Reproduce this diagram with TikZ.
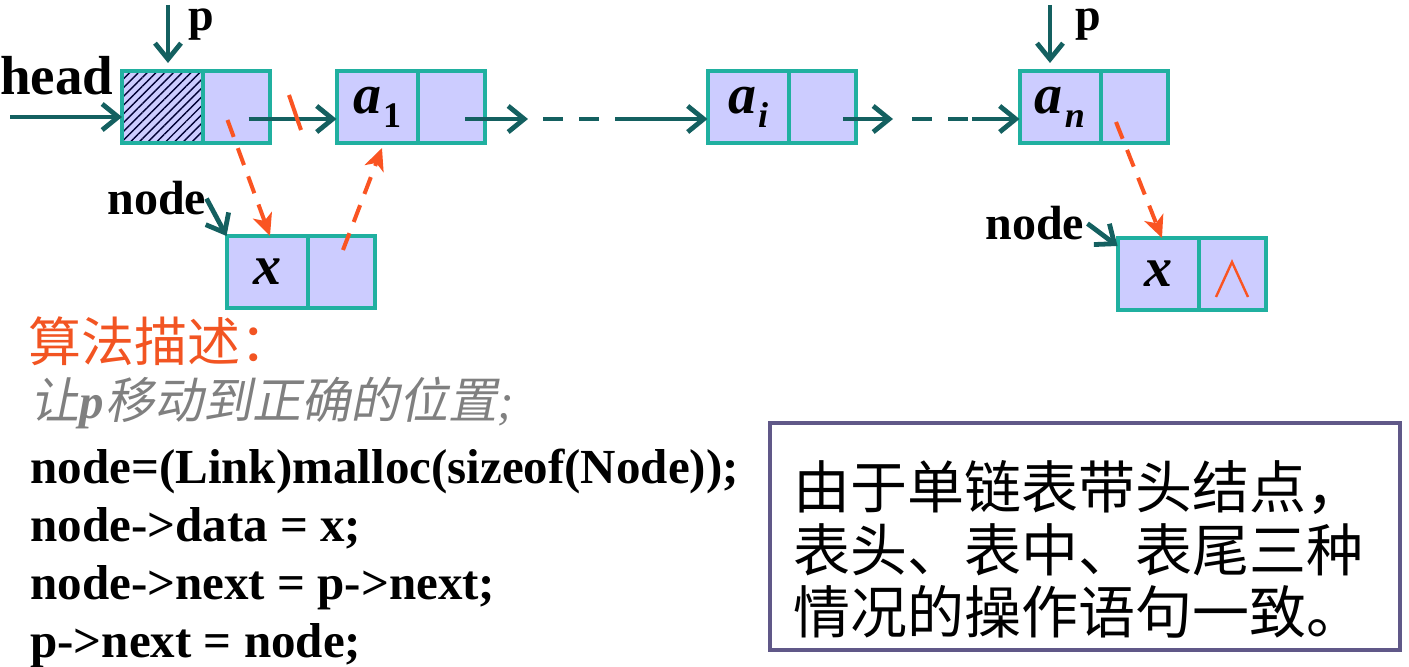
\documentclass[tikz,border=0pt]{standalone}
\usepackage{fontspec}
\setmainfont{Liberation Serif}
\newfontfamily\cjk{Noto Sans CJK SC}
\newfontfamily\cjkit{Noto Sans CJK SC}[FakeSlant=0.2]
\usetikzlibrary{positioning,calc,arrows.meta,patterns.meta}

\definecolor{cellfill}{RGB}{204,204,255}
\definecolor{cellline}{RGB}{32,176,160}
\definecolor{ptrcol}{RGB}{20,96,96}
\definecolor{newred}{RGB}{250,84,34}
\definecolor{titlered}{RGB}{242,84,34}
\definecolor{boxline}{RGB}{96,88,136}

\tikzset{
    datacell/.style={draw=cellline, fill=cellfill, line width=2pt, minimum width=40.5pt, minimum height=36pt, inner sep=0pt, outer sep=0pt},
    nextcell/.style={datacell, minimum width=33.5pt},
    ptr/.style={draw=ptrcol, line width=2.4pt, -{Straight Barb[length=8pt,width=13pt]}},
    gap/.style={draw=ptrcol, line width=2.4pt, dash pattern=on 10pt off 8pt},
    newptr/.style={draw=newred, line width=2pt, dash pattern=on 9pt off 6pt, -{Stealth[length=11pt,width=10pt,inset=3pt]}},
    lbl/.style={font=\bfseries\fontsize{24}{24}\selectfont, inner sep=0pt},
    code/.style={anchor=base west, inner sep=0pt, font=\bfseries\fontsize{24.5}{25}\selectfont},
    notebox/.style={draw=boxline, line width=2pt, minimum width=315pt, minimum height=113.5pt, inner sep=0pt},
    noteline/.style={anchor=base west, inner sep=0pt, font=\cjk\fontsize{28.5}{31}\selectfont}
}

\newcommand{\elem}[2]{{\bfseries\itshape\fontsize{28}{28}\selectfont #1}\kern1pt\raisebox{-7pt}{\bfseries\fontsize{18}{18}\selectfont #2}}
\newcommand{\xval}{{\bfseries\itshape\fontsize{28}{28}\selectfont x}\hspace{12pt}}

\begin{document}
\begin{tikzpicture}[x=0.5pt, y=-0.5pt]
        \useasboundingbox (0,0) rectangle (1409,667);

        % head node
        \node[datacell, preaction={fill=cellfill}, pattern={Lines[angle=45,distance=3.1pt,line width=0.7pt]}, pattern color=black!80!blue] (hd) at (162.5,107) {};
        \node[nextcell, right=0pt of hd] (hn) {};
        \node[lbl, anchor=base west, font=\bfseries\fontsize{27.5}{28}\selectfont] (headlbl) at (0,95) {head};
        \coordinate (hstart) at (10,117);
        \draw[ptr] (hstart) -- (hstart -| hd.west);

        % 1st element
        \node[datacell] (ad1) at (377,107) {\elem{a}{1}};
        \node[nextcell, right=0pt of ad1] (an1) {};

        % i-th element
        \node[datacell] (adi) at (748,107) {\elem{a}{\itshape i}};
        \node[nextcell, right=0pt of adi] (ani) {};

        % last element
        \node[datacell] (adn) at (1060,107) {\elem{a}{\itshape n}};
        \node[nextcell, right=0pt of adn] (ann) {};

        % new nodes
        \node[datacell] (xd1) at (267,272) {\xval};
        \node[nextcell, right=0pt of xd1] (xn1) {};
        \node[datacell] (xd2) at (1158,274) {\xval};
        \node[nextcell, right=0pt of xd2] (xn2) {};
        \draw[newred, line width=1.2pt] ($(xn2.center)+(-16,23)$) -- ($(xn2.center)+(0,-12)$) -- ($(xn2.center)+(16,23)$);

        % p pointers
        \node[lbl, anchor=base west, font=\bfseries\fontsize{23}{23}\selectfont] (p1) at (188,31) {p};
        \coordinate (ptop1) at (168,5);
        \draw[ptr, shorten >=4pt] (ptop1) -- (ptop1 |- hd.north);
        \node[lbl, anchor=base west, font=\bfseries\fontsize{23}{23}\selectfont] (p2) at (1075,31) {p};
        \coordinate (ptop2) at (1050,5);
        \draw[ptr, shorten >=4pt] (ptop2) -- (ptop2 |- adn.north);

        % node pointers
        \node[lbl, anchor=base west] (nd1) at (107,215) {node};
        \draw[ptr] (nd1.east) -- (xd1.north west);
        \node[lbl, anchor=base west] (nd2) at (985,240) {node};
        \draw[ptr] ($(nd2.east)+(3,0)$) -- ($(xd2.north west)+(0,8)$);

        % next links
        \coordinate (hs) at ($(hn.center)+(12,12)$);
        \draw[ptr] (hs) -- (hs -| ad1.west);
        \draw[newred, line width=2pt] (289,95) -- (301,130);

        \coordinate (s1) at ($(an1.center)+(14,12)$);
        \coordinate (m1) at (528,119);
        \coordinate (g1) at (543,119);
        \coordinate (g2) at (600,119);
        \coordinate (e1) at (615,119);
        \draw[ptr] (s1) -- (m1);
        \draw[gap] (g1) -- (g2);
        \draw[ptr] (e1) -- (e1 -| adi.west);

        \coordinate (s2) at ($(ani.center)+(21,12)$);
        \coordinate (m2) at (893,119);
        \coordinate (g3) at (912,119);
        \coordinate (g4) at (968,119);
        \coordinate (e2) at (972,119);
        \draw[ptr] (s2) -- (m2);
        \draw[gap] (g3) -- (g4);
        \draw[ptr] (e2) -- (e2 -| adn.west);

        % insert links
        \draw[newptr] ($(hn.center)+(-9,13)$) -- ($(xd1.north)+(3,0)$);
        \draw[newptr] ($(xn1.center)+(2,-22)$) -- ($(ad1.south)+(5,5)$);
        \draw[newptr] ($(ann.center)+(-18,15)$) -- ($(xd2.north)+(4,0)$);

        % algorithm
        \node[anchor=base west, inner sep=0pt, text=titlered, font=\cjk\fontsize{26.5}{27}\selectfont] (algo) at (28,362) {算法描述：};
        \node[anchor=base west, inner sep=0pt, text=gray, font=\fontsize{24.5}{25}\selectfont] (step0) at (30,419) {{\cjkit 让}\textbf{\textit{p}}\kern1pt{\cjkit 移动到正确的位置}\textit{;}};
        \node[code] (c1) at (30,484) {node=(Link)malloc(sizeof(Node));};
        \node[code] (c2) at (30,542) {node->data = x;};
        \node[code] (c3) at (30,600) {node->next = p->next;};
        \node[code] (c4) at (30,658) {p->next = node;};

        % note
        \node[notebox] (note) at (1085,536.5) {};
        \node[noteline] (n1) at (793,509) {由于单链表带头结点，};
        \node[noteline] (n2) at (793,572) {表头、表中、表尾三种};
        \node[noteline] (n3) at (793,634) {情况的操作语句一致。};
\end{tikzpicture}
\end{document}
